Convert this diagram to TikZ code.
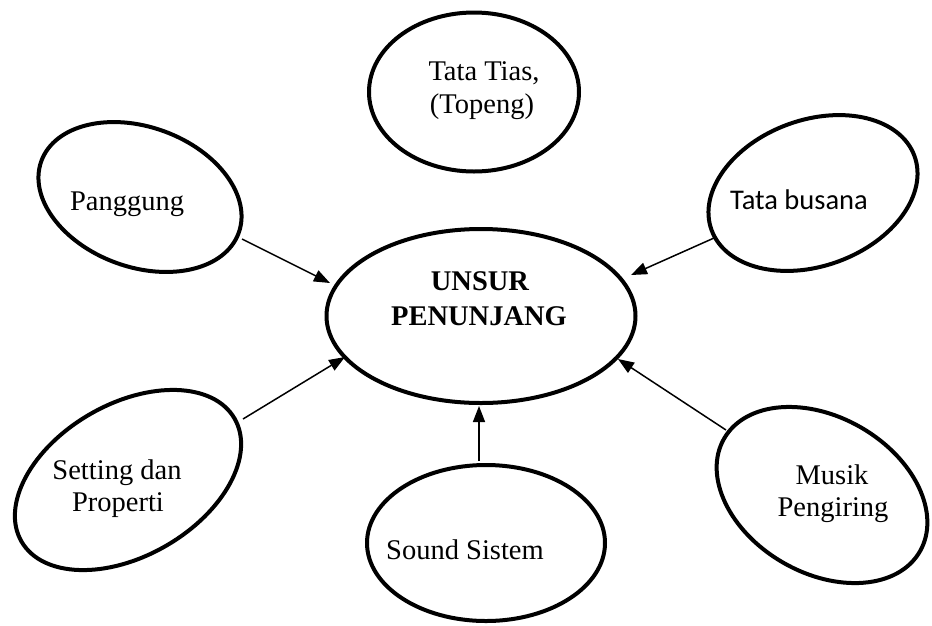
\documentclass[tikz,border=0pt]{standalone}
\usepackage{fontspec}
\setmainfont{Liberation Serif}
\newfontfamily\calibrifont{Carlito}
\usetikzlibrary{shapes.geometric,arrows.meta}
\begin{document}
\begin{tikzpicture}[x=1pt,y=-1pt,
  bubble/.style={draw=black,line width=4pt,ellipse,inner sep=0pt,outer sep=0pt},
  lbl/.style={anchor=base,inner sep=0pt,font=\fontsize{28.5}{32}\selectfont},
  arr/.style={line width=1.5pt,-{Triangle[length=16pt,width=12pt]}}]
\clip (0,0) rectangle (932,625);
\fill[white] (0,0) rectangle (932,625);
% ellipses
\node[bubble,minimum width=309pt,minimum height=174pt] (c) at (481,316) {};
\node[bubble,minimum width=210pt,minimum height=140pt,rotate=-20] (pang) at (140,197) {};
\node[bubble,minimum width=210pt,minimum height=159pt] (tias) at (474,92) {};
\node[bubble,minimum width=216pt,minimum height=146pt,rotate=20] (bus) at (813,193) {};
\node[bubble,minimum width=246pt,minimum height=152pt,rotate=30] (set) at (128,480) {};
\node[bubble,minimum width=238pt,minimum height=156pt] (snd) at (486,543) {};
\node[bubble,minimum width=226pt,minimum height=156pt,rotate=-30] (mus) at (822,495) {};
% labels
\node[lbl,font=\fontsize{28.5}{32}\selectfont\bfseries] (c1) at (480,290) {UNSUR};
\node[lbl,font=\fontsize{28.5}{32}\selectfont\bfseries] (c2) at (479,325) {PENUNJANG};
\node[lbl] (pangt) at (127,210) {Panggung};
\node[lbl] (tias1) at (484,80) {Tata Tias,};
\node[lbl] (tias2) at (482,113) {(Topeng)};
\node[lbl,font=\fontsize{28.5}{32}\selectfont\calibrifont] (bust) at (799,209) {Tata busana};
\node[lbl] (set1) at (117,479) {Setting dan};
\node[lbl] (set2) at (118,511) {Properti};
\node[lbl] (sndt) at (465,559) {Sound Sistem};
\node[lbl] (mus1) at (832,484) {Musik};
\node[lbl] (mus2) at (833,516) {Pengiring};
% connector ends
\coordinate (pang-o) at (242,239);
\coordinate (c-i1) at (330,283);
\coordinate (bus-o) at (714,238);
\coordinate (c-i2) at (631,275);
\coordinate (set-o) at (243,419);
\coordinate (c-i3) at (345,357);
\coordinate (snd-o) at (479,461);
\coordinate (c-i4) at (479,406);
\coordinate (mus-o) at (726,430);
\coordinate (c-i5) at (618,359);
\draw[arr] (pang-o) -- (c-i1);
\draw[arr] (bus-o) -- (c-i2);
\draw[arr] (set-o) -- (c-i3);
\draw[arr] (snd-o) -- (c-i4);
\draw[arr] (mus-o) -- (c-i5);
\end{tikzpicture}
\end{document}
